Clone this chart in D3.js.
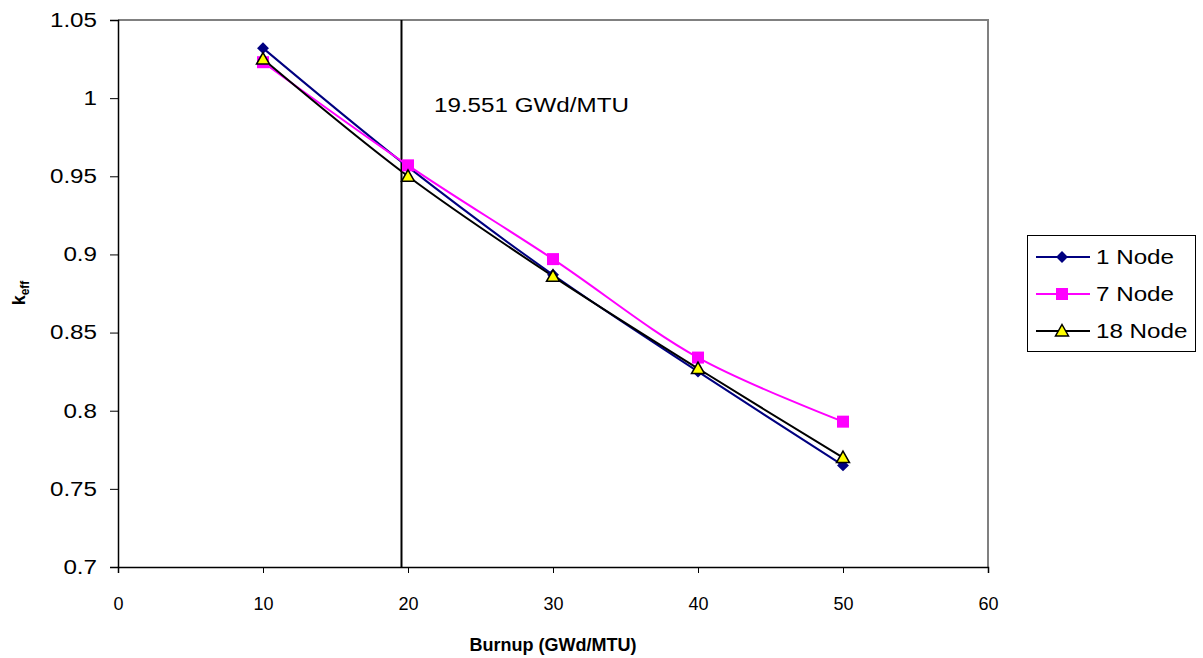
<!DOCTYPE html>
<html>
<head>
<meta charset="utf-8">
<script src="https://cdn.jsdelivr.net/npm/d3@7"></script>
<style>
  html, body { margin: 0; padding: 0; background: #fff; }
  svg { display: block; font-family: "Liberation Sans", Arial, sans-serif; }
</style>
</head>
<body>
<svg id="chart" width="1203" height="658"></svg>
<script>
// Burnup points (GWd/MTU) and k-eff for each nodalization
const burnup = [10, 20, 30, 40, 50];
const node1 = [1.032, 0.956, 0.887, 0.825, 0.765];
const node7 = [1.023, 0.957, 0.897, 0.834, 0.793];
const node18 = [1.025, 0.950, 0.886, 0.827, 0.770];
const seriesNames = ["1 Node", "7 Node", "18 Node"];
const xTicks = [0, 10, 20, 30, 40, 50, 60];
const yTicks = [0.7, 0.75, 0.8, 0.85, 0.9, 0.95, 1, 1.05];
const markerLine = 19.551;
const markerLabel = "19.551 GWd/MTU";

const svg = d3.select("#chart");
const plot = { left: 118, right: 988, top: 20, bottom: 567 };
const stretch = 1.21; // wide text face used for labels

const x = d3.scaleLinear().domain([0, 60]).range([plot.left, plot.right]);
const y = d3.scaleLinear().domain([0.7, 1.05]).range([plot.bottom, plot.top]);

// horizontally widened text, anchored at (tx, ty)
function wideText(parent, tx, ty, str, size, anchor) {
  return parent.append("text")
    .attr("transform", `translate(${tx},${ty}) scale(${stretch},1)`)
    .attr("text-anchor", anchor || "start")
    .style("font-size", size + "px").attr("fill", "#000")
    .text(str);
}

// plot-area frame (top and right edges in gray)
svg.append("path")
  .attr("d", `M${plot.left},${plot.top}H${plot.right}V${plot.bottom}`)
  .attr("fill", "none").attr("stroke", "#808080").attr("stroke-width", 2);

// axes
const xAxis = svg.append("g").attr("transform", `translate(0,${plot.bottom})`)
  .call(d3.axisBottom(x).tickValues(xTicks).tickSize(6).tickPadding(24).tickFormat(d3.format("d")));
const yAxis = svg.append("g").attr("transform", `translate(${plot.left},0)`)
  .call(d3.axisLeft(y).tickValues(yTicks).tickSize(8).tickPadding(13).tickFormat(d => String(+d.toFixed(2))));
[xAxis, yAxis].forEach(g => {
  g.select(".domain").attr("stroke", "#000").attr("stroke-width", 1.5);
  g.selectAll(".tick line").attr("stroke", "#000");
  g.selectAll(".tick text").attr("fill", "#000").style("font-family", "'Liberation Sans', Arial, sans-serif");
});
xAxis.selectAll(".tick text").style("font-size", "18px");
yAxis.selectAll(".tick text")
  .style("font-size", "20px")
  .attr("x", -21 / stretch)
  .attr("transform", `scale(${stretch},1)`);

// vertical reference line
svg.append("line")
  .attr("x1", x(markerLine)).attr("x2", x(markerLine))
  .attr("y1", plot.top).attr("y2", plot.bottom)
  .attr("stroke", "#000").attr("stroke-width", 2);
wideText(svg, 434, 112, markerLabel, 20);

// series
const series = [
  { name: seriesNames[0], values: node1, color: "#000080", marker: "diamond" },
  { name: seriesNames[1], values: node7, color: "#FF00FF", marker: "square" },
  { name: seriesNames[2], values: node18, color: "#000000", marker: "triangle" }
];

const line = d3.line().x(d => x(d[0])).y(d => y(d[1])).curve(d3.curveCatmullRom.alpha(0.5));

function drawMarker(g, type, cx, cy, color) {
  if (type === "diamond") {
    g.append("path").attr("d", d3.symbol(d3.symbolDiamond2, 90)())
      .attr("transform", `translate(${cx},${cy})`).attr("fill", color);
  } else if (type === "square") {
    g.append("rect").attr("x", cx - 6).attr("y", cy - 6).attr("width", 12).attr("height", 12)
      .attr("fill", color);
  } else {
    g.append("path").attr("d", `M${cx},${cy - 6.5}L${cx + 6.5},${cy + 5}L${cx - 6.5},${cy + 5}Z`)
      .attr("fill", "#FFFF00").attr("stroke", "#000").attr("stroke-width", 1.5);
  }
}

series.forEach(s => {
  const pts = burnup.map((b, i) => [b, s.values[i]]);
  svg.append("path").datum(pts).attr("d", line)
    .attr("fill", "none").attr("stroke", s.color).attr("stroke-width", 2);
});
series.forEach(s => {
  const g = svg.append("g");
  burnup.forEach((b, i) => drawMarker(g, s.marker, x(b), y(s.values[i]), s.color));
});

// legend
const legend = svg.append("g");
legend.append("rect").attr("x", 1027.5).attr("y", 235.5).attr("width", 168).attr("height", 116)
  .attr("fill", "#fff").attr("stroke", "#000").attr("stroke-width", 1);
series.forEach((s, i) => {
  const ly = 257 + i * 37;
  legend.append("line").attr("x1", 1036).attr("x2", 1090).attr("y1", ly).attr("y2", ly)
    .attr("stroke", s.color).attr("stroke-width", 2);
  drawMarker(legend, s.marker, 1062, ly, s.color);
  wideText(legend, 1096, ly + 7, s.name, 20);
});

// axis titles
svg.append("text")
  .attr("x", (plot.left + plot.right) / 2).attr("y", 651)
  .attr("text-anchor", "middle").style("font-size", "18px").style("font-weight", "bold")
  .text("Burnup (GWd/MTU)");
const yt = svg.append("text")
  .attr("transform", `translate(25,293) rotate(-90)`)
  .attr("text-anchor", "middle").style("font-size", "18px").style("font-weight", "bold");
yt.append("tspan").text("k");
yt.append("tspan").attr("dy", 4).style("font-size", "12px").text("eff");
</script>
</body>
</html>
